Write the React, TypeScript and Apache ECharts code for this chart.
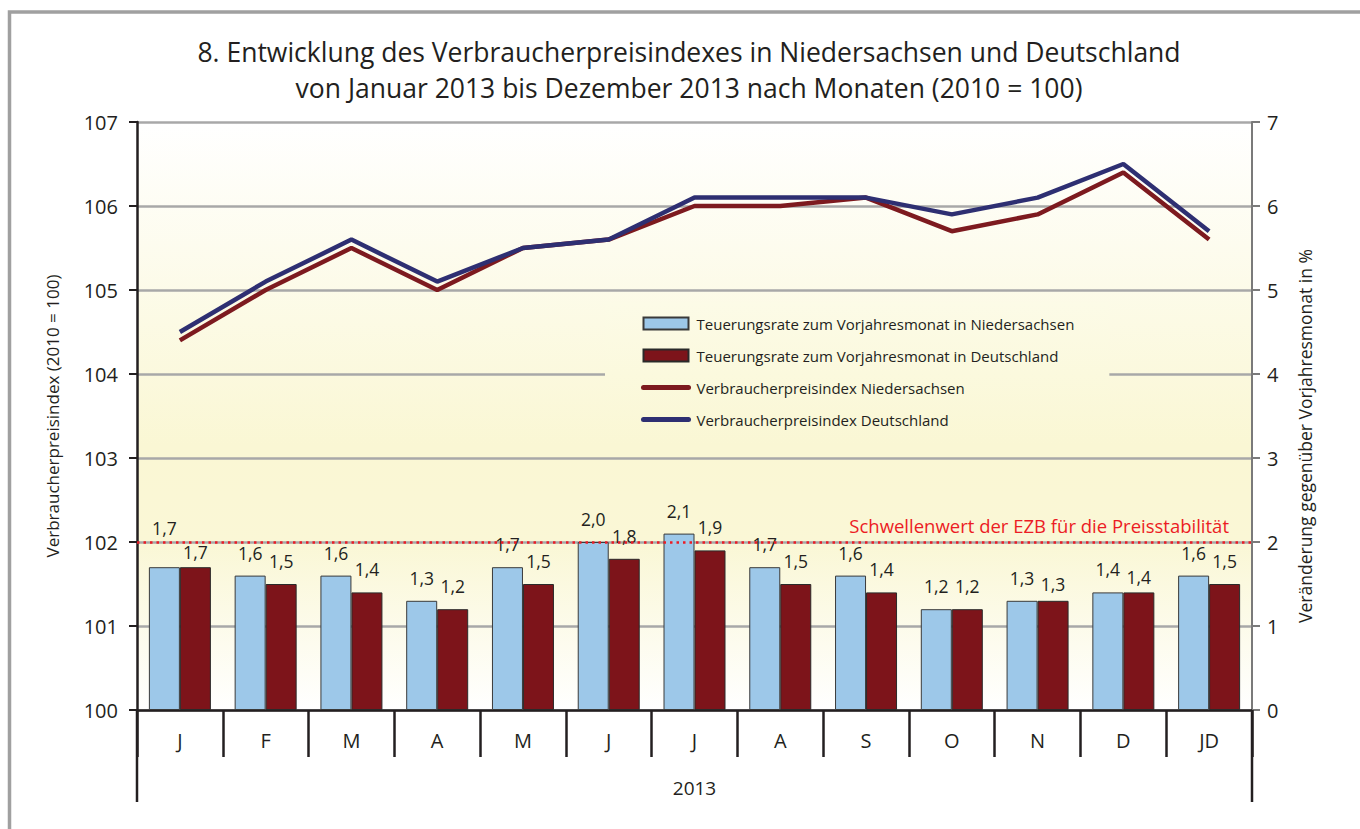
import React, { useEffect, useRef } from "react";
import * as echarts from "echarts";

const months = ["J", "F", "M", "A", "M", "J", "J", "A", "S", "O", "N", "D", "JD"];
const rateNds = [1.7, 1.6, 1.6, 1.3, 1.7, 2.0, 2.1, 1.7, 1.6, 1.2, 1.3, 1.4, 1.6];
const rateDe = [1.7, 1.5, 1.4, 1.2, 1.5, 1.8, 1.9, 1.5, 1.4, 1.2, 1.3, 1.4, 1.5];
const vpiNds = [104.4, 105.0, 105.5, 105.0, 105.5, 105.6, 106.0, 106.0, 106.1, 105.7, 105.9, 106.4, 105.6];
const vpiDe = [104.5, 105.1, 105.6, 105.1, 105.5, 105.6, 106.1, 106.1, 106.1, 105.9, 106.1, 106.5, 105.7];
const threshold = 2;
const yearLabel = "2013";

const FONT = "'Open Sans', 'Noto Sans', sans-serif";
const TXT = "#231f20";

const names = {
  bNds: "Teuerungsrate zum Vorjahresmonat in Niedersachsen",
  bDe: "Teuerungsrate zum Vorjahresmonat in Deutschland",
  lNds: "Verbraucherpreisindex Niedersachsen",
  lDe: "Verbraucherpreisindex Deutschland",
};

const fmt = (v: number) => v.toFixed(1).replace(".", ",");

export default function App() {
  const ref = useRef<HTMLDivElement>(null);
  useEffect(() => {
    document.body.style.margin = "0";
    const chart = echarts.init(ref.current!, null, { renderer: "svg" });
    const W = 1360;
    const H = 829;
    const gl = 137, gr = 1252, gt = 122, gb = 710;

    const ndsLabelDist: Record<number, number> = { 0: 30 };
    const deLabelDist: Record<number, number> = { 0: 6, 10: 8, 11: 6 };

    const lineLegendStyle = (color: string) => ({
      itemStyle: { opacity: 0 },
      lineStyle: { color, width: 5, cap: "round" },
    });

    const option: any = {
      animation: false,
      textStyle: { fontFamily: FONT },
      title: {
        text: "8. Entwicklung des Verbraucherpreisindexes in Niedersachsen und Deutschland\nvon Januar 2013 bis Dezember 2013 nach Monaten (2010 = 100)",
        left: 684,
        textAlign: "center",
        top: 29,
        textStyle: { fontFamily: FONT, fontSize: 26.5, fontWeight: "normal", color: TXT, lineHeight: 36 },
      },
      grid: {
        left: gl,
        right: W - gr,
        top: gt,
        bottom: H - gb,
        show: true,
        borderWidth: 0,
        backgroundColor: new echarts.graphic.LinearGradient(0, 0, 0, 1, [
          { offset: 0, color: "#ffffff" },
          { offset: 0.55, color: "#faf7d4" },
          { offset: 0.72, color: "#faf7d6" },
          { offset: 1, color: "#ffffff" },
        ]),
      },
      legend: {
        orient: "vertical",
        left: 605,
        top: 302,
        padding: [14, 35, 18, 36],
        itemWidth: 45,
        itemHeight: 12,
        itemGap: 17,
        backgroundColor: new echarts.graphic.LinearGradient(0, 0, 0, 1, [
          { offset: 0, color: "#fcfbe7" },
          { offset: 1, color: "#faf7d4" },
        ]),
        textStyle: { fontFamily: FONT, fontSize: 15, color: TXT, padding: [0, 0, 0, 3] },
        data: [
          { name: names.bNds, icon: "rect" },
          { name: names.bDe, icon: "rect" },
          { name: names.lNds, ...lineLegendStyle("#7d1a1f") },
          { name: names.lDe, ...lineLegendStyle("#2e2f72") },
        ],
      },
      xAxis: {
        type: "category",
        data: months,
        boundaryGap: true,
        name: yearLabel,
        nameLocation: "middle",
        nameGap: 68,
        nameTextStyle: { fontFamily: FONT, fontSize: 19, color: TXT },
        axisLine: { lineStyle: { color: TXT, width: 2.5 } },
        axisTick: { show: true, interval: 0, length: 47, lineStyle: { color: TXT, width: 2.5 } },
        axisLabel: { interval: 0, margin: 20, fontFamily: FONT, fontSize: 20, color: TXT },
      },
      yAxis: [
        {
          type: "value",
          min: 100,
          max: 107,
          interval: 1,
          name: "Verbraucherpreisindex (2010 = 100)",
          nameLocation: "middle",
          nameRotate: 90,
          nameGap: 76,
          nameTextStyle: { fontFamily: FONT, fontSize: 17, color: TXT },
          axisLine: { show: true, lineStyle: { color: TXT, width: 2.5 } },
          axisTick: { show: true, length: 8, lineStyle: { color: TXT, width: 2 } },
          axisLabel: { margin: 19, fontFamily: FONT, fontSize: 20, color: TXT },
          splitLine: { show: true, lineStyle: { color: "#a8a8a8", width: 2.5 } },
        },
        {
          type: "value",
          min: 0,
          max: 7,
          interval: 1,
          position: "right",
          axisLine: { show: true, lineStyle: { color: "#7a7a7a", width: 2 } },
          axisTick: { show: true, length: 8, lineStyle: { color: "#7a7a7a", width: 2 } },
          axisLabel: { margin: 15, fontFamily: FONT, fontSize: 20, color: TXT },
          splitLine: { show: false },
        },
      ],
      series: [
        {
          name: names.bNds,
          type: "bar",
          yAxisIndex: 1,
          barWidth: 31,
          barGap: "0%",
          itemStyle: { color: "#9dc8e9", borderColor: "#3a3a3a", borderWidth: 1 },
          label: {
            show: true,
            position: "top",
            distance: 14,
            fontFamily: FONT,
            fontSize: 17.5,
            color: TXT,
            formatter: (p: any) => fmt(p.value),
          },
          data: rateNds.map((v, i) =>
            ndsLabelDist[i] !== undefined ? { value: v, label: { distance: ndsLabelDist[i] } } : v
          ),
          markLine: {
            silent: true,
            symbol: "none",
            lineStyle: { color: "#ec1c24", type: [2.5, 4], width: 2.5 },
            label: {
              show: true,
              position: "insideEndTop",
              formatter: "Schwellenwert der EZB für die Preisstabilität",
              fontFamily: FONT,
              fontSize: 18.5,
              color: "#ec1c24",
              distance: [23, 7],
            },
            data: [{ yAxis: threshold }],
          },
        },
        {
          name: names.bDe,
          type: "bar",
          yAxisIndex: 1,
          barWidth: 31,
          barGap: "0%",
          itemStyle: { color: "#7d141a", borderColor: "#2a2a2a", borderWidth: 1 },
          label: {
            show: true,
            position: "top",
            distance: 14,
            fontFamily: FONT,
            fontSize: 17.5,
            color: TXT,
            formatter: (p: any) => fmt(p.value),
          },
          data: rateDe.map((v, i) =>
            deLabelDist[i] !== undefined ? { value: v, label: { distance: deLabelDist[i] } } : v
          ),
        },
        {
          name: names.lNds,
          type: "line",
          yAxisIndex: 0,
          symbol: "none",
          z: 3,
          lineStyle: { color: "#7d1a1f", width: 4.5 },
          itemStyle: { color: "#7d1a1f" },
          data: vpiNds,
        },
        {
          name: names.lDe,
          type: "line",
          yAxisIndex: 0,
          symbol: "none",
          z: 4,
          lineStyle: { color: "#2e2f72", width: 4.5 },
          itemStyle: { color: "#2e2f72" },
          data: vpiDe,
        },
      ],
      graphic: [
        {
          type: "rect",
          shape: { x: 9.5, y: 12, width: 1400, height: 900 },
          style: { fill: "none", stroke: "#a0a0a0", lineWidth: 3.5 },
          silent: true,
        },
        {
          type: "line",
          shape: { x1: gl, y1: gb, x2: gl, y2: 802 },
          style: { stroke: TXT, lineWidth: 2.5 },
          silent: true,
        },
        {
          type: "line",
          shape: { x1: gr, y1: gb, x2: gr, y2: 802 },
          style: { stroke: TXT, lineWidth: 2.5 },
          silent: true,
        },
        {
          type: "text",
          x: 1305,
          y: 436,
          rotation: Math.PI / 2,
          style: {
            text: "Veränderung gegenüber Vorjahresmonat in %",
            font: `17.5px ${FONT}`,
            fill: TXT,
            align: "center",
            verticalAlign: "middle",
          },
          silent: true,
        },
      ],
    };
    chart.setOption(option);
    return () => chart.dispose();
  }, []);
  return <div ref={ref} style={{ width: 1360, height: 829 }} />;
}
